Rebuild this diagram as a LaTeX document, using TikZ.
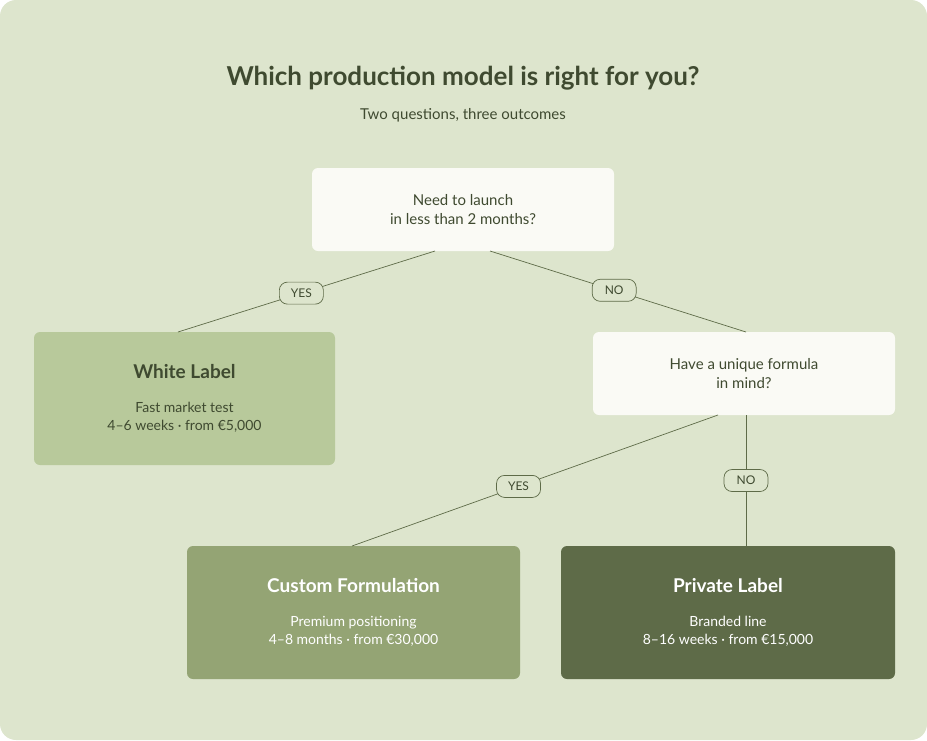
\documentclass[tikz,border=0pt]{standalone}
\usepackage{fontspec}
\setmainfont{Lato}
\definecolor{bgc}{HTML}{DDE5CD}
\definecolor{ink}{HTML}{3F4A30}
\definecolor{qbox}{HTML}{FAFAF5}
\definecolor{wlc}{HTML}{B8C99B}
\definecolor{cfc}{HTML}{94A474}
\definecolor{plc}{HTML}{5E6B48}
\definecolor{linec}{HTML}{5E6B48}
\begin{document}
\begin{tikzpicture}[x=1pt,y=-1pt,
  question/.style={fill=qbox,rounded corners=6pt,minimum width=302pt,minimum height=83pt,align=center,text=ink,font=\fontsize{15}{19}\selectfont},
  outcome/.style={rounded corners=6pt,minimum height=133pt,align=center,text=ink,font=\fontsize{14}{18}\selectfont},
  answer/.style={draw=linec,fill=bgc,rounded corners=8pt,inner sep=2pt,minimum width=44pt,minimum height=22pt,text=ink,font=\fontsize{12}{14}\selectfont},
  link/.style={draw=linec,line width=0.7pt}]
\useasboundingbox (0,0) rectangle (927,740);
\fill[bgc] (0,0) [rounded corners=16pt] rectangle (927,740);
\node[text=ink,font=\bfseries\fontsize{26}{30}\selectfont] (title) at (463,78) {Which production model is right for you?};
\node[text=ink,font=\fontsize{15}{18}\selectfont] (sub) at (463,115) {Two questions, three outcomes};

\node[question] (q1) at (463,209.5) {Need to launch\\in less than 2 months?};
\node[question] (q2) at (744,373.5) {Have a unique formula\\in mind?};

\node[outcome,fill=wlc,minimum width=301pt] (wl) at (184.5,398.5)
  {{\bfseries\fontsize{19}{22}\selectfont White Label}\\[16pt]Fast market test\\4--6 weeks · from €5,000};
\node[outcome,fill=cfc,minimum width=333pt] (cf) at (353.5,612.5)
  {{\bfseries\fontsize{19}{22}\selectfont\color{white}Custom Formulation}\\[16pt]{\color{white}Premium positioning}\\{\color{white}4--8 months · from €30,000}};
\node[outcome,fill=plc,minimum width=334pt,text=white] (pl) at (728,612.5)
  {{\bfseries\fontsize{19}{22}\selectfont Private Label}\\[16pt]Branded line\\8--16 weeks · from €15,000};

\coordinate (q1l) at (435,251);
\coordinate (q1r) at (490,251);
\coordinate (q2l) at (718,415);
\coordinate (q2r) at (746,415);
\draw[link] (q1l) -- (178,332) node[answer,pos=0.52] (a1) {YES};
\draw[link] (q1r) -- (746,332) node[answer,pos=0.485] (a2) {NO};
\draw[link] (q2l) -- (352,546) node[answer,pos=0.545] (a3) {YES};
\draw[link] (q2r) -- (746,546) node[answer,pos=0.5] (a4) {NO};
\end{tikzpicture}
\end{document}
